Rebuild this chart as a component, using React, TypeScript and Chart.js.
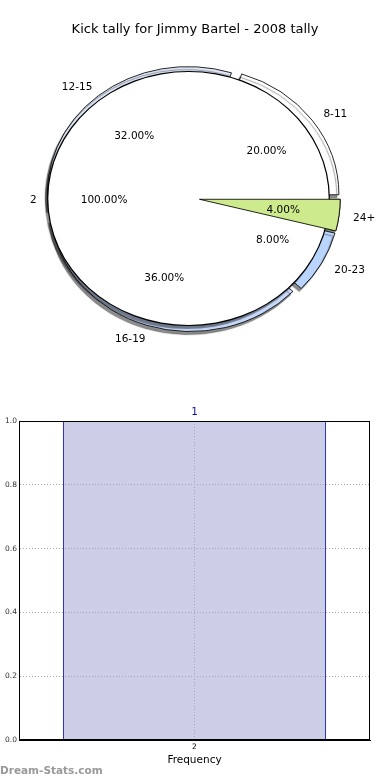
import React, { useEffect, useRef } from 'react';
import { Chart, registerables } from 'chart.js';
Chart.register(...registerables);

const TITLE = 'Kick tally for Jimmy Bartel - 2008 tally';
const KICK_RANGES = ['8-11', '12-15', '16-19', '20-23', '24+'];
const KICK_COUNTS = [5, 8, 9, 2, 1];
const SLICE_COLORS = ['#ffffff', '#dfe7f7', '#c7d9fa', '#bad5fd', '#cdea8c'];
const OVERALL_LABELS = ['2'];
const OVERALL_VALUES = [1];
const FREQ_CATEGORIES = ['2'];
const FREQ_VALUES = [1];
const FREQ_TICKS = [0, 0.2, 0.4, 0.6, 0.8, 1.0];

// pie geometry (screen px)
const R = 127;
const K = 1.108;
const X0 = 188.5;
const Y0 = 198.5;
const CX2 = 192.5;
const EXPLODE = 0.05;
const FONT = '"DejaVu Sans", sans-serif';

// dataset indices: 0 = green highlight, 1 = white disc, 2 = black outline disc, 3 = exploded pie
const pieGeom = {
  id: 'pieGeom',
  beforeDatasetsDraw(chart: any) {
    const ctx = chart.ctx;
    chart.data.datasets.forEach((_ds: any, di: number) => {
      const meta = chart.getDatasetMeta(di);
      const exploded = di === 0 || di === 3;
      meta.data.forEach((el: any) => {
        const mid = (el.startAngle + el.endAngle) / 2;
        const baseX = exploded ? X0 + (CX2 - X0) / K : X0;
        const e = exploded ? EXPLODE * R : 0;
        el.x = baseX + e * Math.cos(mid);
        el.y = Y0 + e * Math.sin(mid);
        el.innerRadius = 0;
        el.outerRadius = di === 1 ? R - 0.5 : di === 2 ? R + 0.6 : R;
      });
    });
    ctx.save();
    ctx.translate(X0, 0);
    ctx.scale(K, 1);
    ctx.translate(-X0, 0);
  },
  beforeDatasetDraw(chart: any, args: any) {
    const ctx = chart.ctx;
    ctx.save();
    if (args.index === 2 || args.index === 3) {
      ctx.shadowColor = 'rgba(0,0,0,0.45)';
      ctx.shadowOffsetX = -2;
      ctx.shadowOffsetY = 3;
      ctx.shadowBlur = 1;
    }
  },
  afterDatasetDraw(chart: any) {
    chart.ctx.restore();
  },
  afterDatasetsDraw(chart: any) {
    const ctx = chart.ctx;
    ctx.restore();
    ctx.save();
    ctx.fillStyle = '#000';
    ctx.font = `10.5px ${FONT}`;
    ctx.textBaseline = 'middle';
    const drawLabels = (di: number, labels: string[], values: number[]) => {
      const meta = chart.getDatasetMeta(di);
      const total = values.reduce((a, b) => a + b, 0);
      meta.data.forEach((el: any, i: number) => {
        const mid = (el.startAngle + el.endAngle) / 2;
        const c = Math.cos(mid);
        const s = Math.sin(mid);
        const lx = X0 + K * (el.x + 1.1 * R * c - X0);
        const ly = el.y + 1.1 * R * s + 1.5;
        ctx.textAlign = c > 0 ? 'left' : 'right';
        ctx.fillText(labels[i], c > 0 ? lx : lx + 3, ly);
        const px = X0 + K * (el.x + 0.6 * R * c - X0);
        const py = el.y + 0.6 * R * s + 1.5;
        ctx.textAlign = 'center';
        ctx.fillText(((values[i] / total) * 100).toFixed(2) + '%', px, py);
      });
    };
    drawLabels(3, [...KICK_RANGES].reverse(), [...KICK_COUNTS].reverse());
    drawLabels(1, OVERALL_LABELS, OVERALL_VALUES);
    ctx.restore();
  },
};

const frame = {
  id: 'frame',
  afterDraw(chart: any) {
    const { ctx, chartArea: a } = chart;
    ctx.save();
    ctx.strokeStyle = '#000';
    ctx.lineWidth = 1;
    const l = Math.round(a.left) + 0.5;
    const t = Math.round(a.top) + 0.5;
    const r = Math.round(a.right) - 0.5;
    const b = Math.round(a.bottom) - 0.5;
    ctx.strokeRect(l, t, r - l, b - t);
    const meta = chart.getDatasetMeta(0);
    ctx.fillStyle = '#101090';
    ctx.font = `10.5px ${FONT}`;
    ctx.textAlign = 'center';
    ctx.textBaseline = 'middle';
    meta.data.forEach((el: any, i: number) => {
      ctx.fillText(String(FREQ_VALUES[i]), el.x, el.y - 9);
    });
    ctx.restore();
  },
};

export default function App() {
  const pieRef = useRef<HTMLCanvasElement>(null);
  const barRef = useRef<HTMLCanvasElement>(null);

  useEffect(() => {
    const pieLabels = [...KICK_RANGES].reverse();
    const pieValues = [...KICK_COUNTS].reverse();
    const pieColors = [...SLICE_COLORS].reverse();
    const pie = new Chart(pieRef.current as HTMLCanvasElement, {
      type: 'pie',
      data: {
        labels: pieLabels,
        datasets: [
          {
            data: pieValues,
            backgroundColor: pieColors.map((c, i) => (pieLabels[i] === '24+' ? c : 'rgba(0,0,0,0)')),
            borderColor: '#000',
            borderWidth: pieLabels.map((l) => (l === '24+' ? 0.8 : 0)),
            clip: false,
          } as any,
          {
            data: OVERALL_VALUES,
            backgroundColor: '#ffffff',
            borderWidth: 0,
            clip: false,
          } as any,
          {
            data: OVERALL_VALUES,
            backgroundColor: '#000000',
            borderWidth: 0,
            clip: false,
          } as any,
          {
            data: pieValues,
            backgroundColor: pieColors,
            borderColor: '#000',
            borderWidth: 0.8,
            clip: false,
          } as any,
        ],
      },
      options: {
        animation: false,
        responsive: false,
        rotation: 90,
        plugins: {
          legend: { display: false },
          tooltip: { enabled: false },
          title: {
            display: true,
            text: TITLE,
            color: '#000',
            font: { family: FONT, size: 13, weight: 'normal' },
            padding: { top: 22, bottom: 10 },
          },
        },
      } as any,
      plugins: [pieGeom],
    });

    const bar = new Chart(barRef.current as HTMLCanvasElement, {
      type: 'bar',
      data: {
        labels: FREQ_CATEGORIES,
        datasets: [
          {
            data: FREQ_VALUES,
            backgroundColor: 'rgb(204,205,230)',
            borderColor: '#0000a0',
            borderWidth: 1,
            borderSkipped: 'bottom',
            barPercentage: 0.75,
            categoryPercentage: 1,
          } as any,
        ],
      },
      options: {
        animation: false,
        responsive: false,
        layout: { padding: { top: 21, right: 20, left: 0, bottom: 0 } },
        plugins: { legend: { display: false }, tooltip: { enabled: false } },
        scales: {
          x: {
            grid: { offset: false, color: '#a8a8a8', lineWidth: 1, drawTicks: false, z: 1 },
            border: { display: true, color: '#000', width: 1, dash: [1, 2], z: 2 },
            ticks: { font: { family: FONT, size: 7.5 }, color: '#000', padding: 3 },
            title: {
              display: true,
              text: 'Frequency',
              color: '#000',
              font: { family: FONT, size: 10.5 },
              padding: { top: 0, bottom: 13 },
            },
            afterFit: (s: any) => {
              s.height = 40;
            },
          },
          y: {
            min: 0,
            max: 1,
            grid: { color: '#a8a8a8', lineWidth: 1, drawTicks: false, z: 1 },
            border: { display: true, color: '#000', width: 1, dash: [1, 2], z: 2 },
            ticks: {
              font: { family: FONT, size: 7.5 },
              color: '#333',
              padding: 2,
              callback: (v: any) => Number(v).toFixed(1),
            },
            afterBuildTicks: (s: any) => {
              s.ticks = FREQ_TICKS.map((v) => ({ value: v }));
            },
            afterFit: (s: any) => {
              s.width = 19;
            },
          },
        },
      } as any,
      plugins: [frame],
    });

    return () => {
      pie.destroy();
      bar.destroy();
    };
  }, []);

  return (
    <div
      style={{
        position: 'fixed',
        left: 0,
        top: 0,
        width: 390,
        height: 780,
        background: '#fff',
        overflow: 'hidden',
      }}
    >
      <canvas
        ref={pieRef}
        width={390}
        height={370}
        style={{ position: 'absolute', left: 0, top: 0, width: 390, height: 370 }}
      />
      <canvas
        ref={barRef}
        width={390}
        height={380}
        style={{ position: 'absolute', left: 0, top: 400, width: 390, height: 380 }}
      />
      <div
        style={{
          position: 'absolute',
          left: 0,
          top: 763,
          font: `bold 10.5px ${FONT}`,
          color: '#999',
          lineHeight: '14px',
        }}
      >
        Dream-Stats.com
      </div>
    </div>
  );
}
